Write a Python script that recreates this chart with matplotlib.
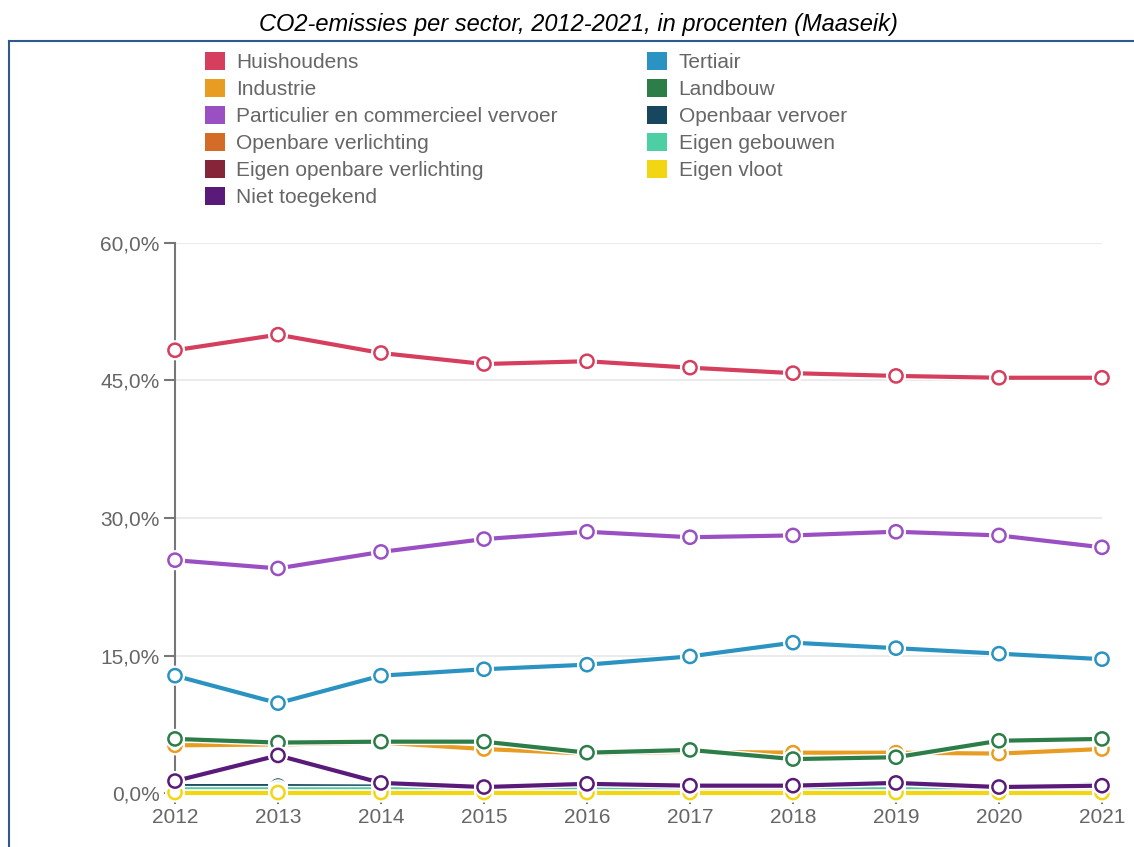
import matplotlib
matplotlib.use("Agg")
import matplotlib.pyplot as plt
import matplotlib.patheffects as pe
from matplotlib.patches import Patch
from matplotlib.lines import Line2D
from matplotlib.ticker import FuncFormatter

plt.rcParams["font.family"] = ["Liberation Sans", "DejaVu Sans"]

years = [2012, 2013, 2014, 2015, 2016, 2017, 2018, 2019, 2020, 2021]

# share of CO2 emissions per sector (%), drawing order = legend order
huishoudens = [48.3, 50.0, 48.0, 46.8, 47.1, 46.4, 45.8, 45.5, 45.3, 45.3]
tertiair = [12.8, 9.8, 12.8, 13.5, 14.0, 14.9, 16.4, 15.8, 15.2, 14.6]
industrie = [5.2, 5.3, 5.5, 4.8, 4.3, 4.5, 4.4, 4.4, 4.3, 4.8]
landbouw = [5.9, 5.5, 5.6, 5.6, 4.4, 4.7, 3.7, 3.9, 5.7, 5.9]
particulier = [25.4, 24.5, 26.3, 27.7, 28.5, 27.9, 28.1, 28.5, 28.1, 26.8]
openbaar_vervoer = [0.75, 0.75, 0.7, 0.7, 0.7, 0.7, 0.7, 0.7, 0.7, 0.7]
openbare_verlichting = [0.3, 0.3, 0.3, 0.3, 0.3, 0.3, 0.3, 0.3, 0.3, 0.3]
eigen_gebouwen = [0.4, 0.4, 0.4, 0.4, 0.4, 0.4, 0.4, 0.4, 0.4, 1.0]
eigen_openbare_verlichting = [0.15, 0.15, 0.15, 0.15, 0.15, 0.15, 0.15, 0.15, 0.15, 0.15]
eigen_vloot = [0.05, 0.05, 0.05, 0.05, 0.05, 0.05, 0.05, 0.05, 0.05, 0.05]
niet_toegekend = [1.3, 4.1, 1.1, 0.65, 1.0, 0.8, 0.8, 1.1, 0.65, 0.8]

series = [
    ("Huishoudens", huishoudens, "#d63e5e"),
    ("Tertiair", tertiair, "#2b93c1"),
    ("Industrie", industrie, "#e99c22"),
    ("Landbouw", landbouw, "#2c7d48"),
    ("Particulier en commercieel vervoer", particulier, "#9a50c2"),
    ("Openbaar vervoer", openbaar_vervoer, "#16475e"),
    ("Openbare verlichting", openbare_verlichting, "#d46b26"),
    ("Eigen gebouwen", eigen_gebouwen, "#4bcfa3"),
    ("Eigen openbare verlichting", eigen_openbare_verlichting, "#86253a"),
    ("Eigen vloot", eigen_vloot, "#f2d613"),
    ("Niet toegekend", niet_toegekend, "#5a1a7a"),
]

fig = plt.figure(figsize=(11.34, 8.47), dpi=100)
ax = fig.add_axes([175 / 1134, 1 - 793 / 847, (1102 - 175) / 1134, (793 - 243) / 847])

for name, vals, col in series:
    ax.plot(years, vals, color=col, linewidth=3, marker="o", markersize=9.5,
            markerfacecolor="white", markeredgecolor=col, markeredgewidth=1.8,
            clip_on=False, zorder=3,
            path_effects=[pe.Stroke(linewidth=5, foreground="white"), pe.Normal()])

ax.set_xlim(2012, 2021)
ax.set_ylim(0, 60)
ax.set_xticks(years)
ax.set_yticks([0, 15, 30, 45, 60])
ax.yaxis.set_major_formatter(FuncFormatter(lambda v, _: f"{v:.1f}%".replace(".", ",")))
ax.grid(axis="y", color="#ebebeb", linewidth=1.5, zorder=0)
ax.set_axisbelow(True)
for s in ["top", "right", "bottom"]:
    ax.spines[s].set_visible(False)
ax.spines["left"].set_color("#777777")
ax.spines["left"].set_linewidth(1.5)
ax.tick_params(axis="both", colors="#777777", labelcolor="#666666", labelsize=15,
               length=8, width=1.5, pad=3)

# legend in two columns, row-wise as in the original
order = [0, 2, 4, 6, 8, 10, 1, 3, 5, 7, 9]
handles = [Patch(facecolor=series[i][2], edgecolor="none") for i in order]
labels = [series[i][0] for i in order]
fig.legend(handles, labels, ncol=2, loc="upper left", bbox_to_anchor=(205 / 1134, 1 - 52 / 847),
           frameon=False, fontsize=15, labelcolor="#666666", handlelength=0.95,
           handleheight=0.95, handletextpad=0.55, labelspacing=0.33, columnspacing=4.3,
           borderpad=0, borderaxespad=0)

fig.text(578 / 1134, 1 - 25 / 847, "CO2-emissies per sector, 2012-2021, in procenten (Maaseik)",
         ha="center", va="center", fontsize=17, style="italic", color="black")

# frame around the chart area
fig.add_artist(Line2D([9 / 1134, 1], [1 - 41 / 847, 1 - 41 / 847], color="#2f5a8f", linewidth=1.5))
fig.add_artist(Line2D([9 / 1134, 9 / 1134], [0, 1 - 41 / 847], color="#2f5a8f", linewidth=1.5))

fig.savefig("out.png", dpi=100)
